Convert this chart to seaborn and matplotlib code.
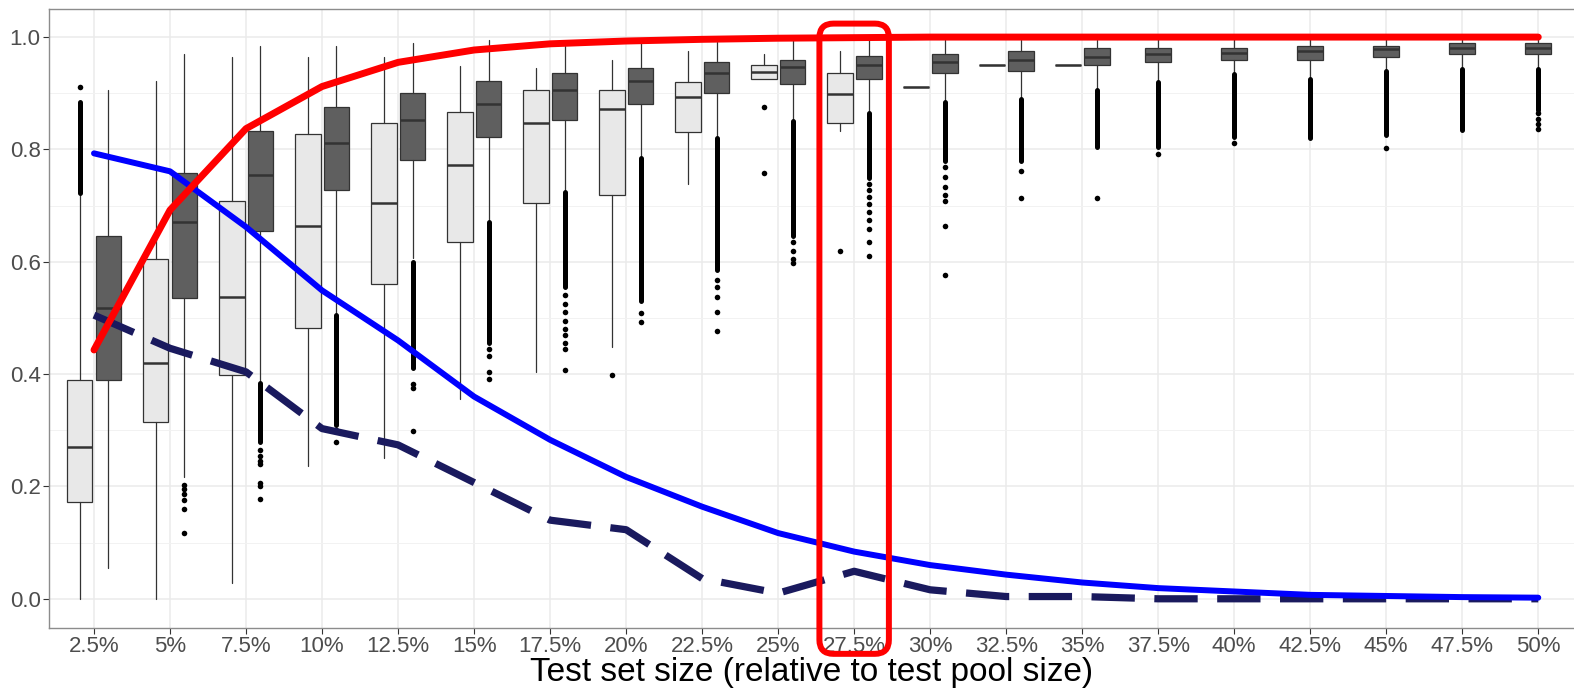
import numpy as np
import pandas as pd
import matplotlib
matplotlib.use("Agg")
import matplotlib.pyplot as plt
import seaborn as sns
from matplotlib.patches import FancyBboxPatch

# categories (test set size)
cats = ["2.5%", "5%", "7.5%", "10%", "12.5%", "15%", "17.5%", "20%", "22.5%", "25%",
        "27.5%", "30%", "32.5%", "35%", "37.5%", "40%", "42.5%", "45%", "47.5%", "50%"]

# light boxes (only up to 35%)
light_lo = [0.0, 0.0, 0.029, 0.237, 0.251, 0.355, 0.404, 0.449, 0.739, 0.926, 0.833, 0.911, 0.951, 0.951]
light_q1 = [0.172, 0.314, 0.398, 0.482, 0.561, 0.635, 0.705, 0.719, 0.831, 0.926, 0.847, 0.911, 0.951, 0.951]
light_med = [0.271, 0.419, 0.537, 0.664, 0.704, 0.773, 0.847, 0.872, 0.893, 0.937, 0.899, 0.911, 0.951, 0.951]
light_q3 = [0.389, 0.605, 0.709, 0.827, 0.847, 0.866, 0.906, 0.906, 0.920, 0.950, 0.936, 0.911, 0.951, 0.951]
light_hi = [0.718, 0.921, 0.964, 0.964, 0.964, 0.949, 0.945, 0.959, 0.975, 0.970, 0.975, 0.911, 0.951, 0.951]
light_dense = {0: (0.884, 0.722)}
light_out = {0: [0.911], 7: [0.398], 9: [0.876, 0.758], 10: [0.620]}

# dark boxes (all sizes)
dark_lo = [0.055, 0.217, 0.388, 0.508, 0.606, 0.674, 0.728, 0.786, 0.822, 0.850,
           0.865, 0.886, 0.890, 0.906, 0.921, 0.936, 0.926, 0.939, 0.943, 0.943]
dark_q1 = [0.389, 0.536, 0.655, 0.728, 0.782, 0.822, 0.852, 0.881, 0.901, 0.917,
           0.926, 0.936, 0.940, 0.951, 0.955, 0.959, 0.959, 0.965, 0.970, 0.970]
dark_med = [0.517, 0.670, 0.754, 0.812, 0.853, 0.881, 0.906, 0.921, 0.936, 0.946,
            0.951, 0.955, 0.960, 0.965, 0.970, 0.971, 0.975, 0.979, 0.980, 0.980]
dark_q3 = [0.645, 0.758, 0.832, 0.876, 0.901, 0.921, 0.936, 0.945, 0.955, 0.960,
           0.966, 0.970, 0.975, 0.980, 0.980, 0.980, 0.984, 0.984, 0.990, 0.990]
dark_hi = [0.905, 0.970, 0.985, 0.985, 0.989, 0.994, 0.985, 0.989, 0.991, 0.994,
           0.994, 0.994, 0.995, 0.995, 0.997, 0.998, 0.999, 0.999, 1.0, 1.0]
# dense outlier columns: (top, bottom)
dark_dense = {2: (0.385, 0.28), 3: (0.505, 0.31), 4: (0.60, 0.41), 5: (0.67, 0.455),
              6: (0.725, 0.555), 7: (0.785, 0.53), 8: (0.82, 0.585), 9: (0.85, 0.645),
              10: (0.865, 0.75), 11: (0.885, 0.78), 12: (0.89, 0.78), 13: (0.905, 0.804),
              14: (0.92, 0.804), 15: (0.935, 0.823), 16: (0.925, 0.821), 17: (0.94, 0.825),
              18: (0.943, 0.834), 19: (0.943, 0.87)}
dark_out = {1: [0.203, 0.195, 0.187, 0.176, 0.16, 0.117],
            2: [0.265, 0.255, 0.245, 0.24, 0.207, 0.2, 0.177],
            3: [0.30, 0.28],
            4: [0.382, 0.375, 0.299],
            5: [0.445, 0.433, 0.404, 0.392],
            6: [0.54, 0.525, 0.51, 0.495, 0.48, 0.47, 0.455, 0.445, 0.407],
            7: [0.508, 0.492],
            8: [0.567, 0.555, 0.537, 0.511, 0.476],
            9: [0.635, 0.62, 0.605, 0.597],
            10: [0.739, 0.727, 0.715, 0.703, 0.689, 0.674, 0.659, 0.635, 0.61],
            11: [0.769, 0.751, 0.733, 0.718, 0.709, 0.664, 0.576],
            12: [0.762, 0.713], 13: [0.713], 14: [0.792], 15: [0.812],
            17: [0.803], 19: [0.865, 0.855, 0.845, 0.837]}

# summary lines
red_line = [0.443, 0.692, 0.837, 0.912, 0.955, 0.977, 0.988, 0.993, 0.996, 0.998,
            0.999, 1.0, 1.0, 1.0, 1.0, 1.0, 1.0, 1.0, 1.0, 1.0]
blue_line = [0.793, 0.761, 0.662, 0.549, 0.46, 0.36, 0.283, 0.217, 0.164, 0.117,
             0.084, 0.060, 0.043, 0.029, 0.019, 0.013, 0.007, 0.005, 0.003, 0.002]
navy_line = [0.505, 0.446, 0.404, 0.303, 0.274, 0.207, 0.14, 0.123, 0.036, 0.010,
             0.049, 0.016, 0.004, 0.004, 0.0, 0.0, 0.0, 0.0, 0.0, 0.0]

highlight = "27.5%"

sns.set_theme(style="whitegrid")
plt.rcParams["font.family"] = ["Liberation Sans", "DejaVu Sans"]

fig = plt.figure(figsize=(15.74, 6.91), dpi=100)
ax = fig.add_axes([49 / 1574, 1 - 628 / 691, 1 - 49 / 1574, (628 - 9) / 691])

x = np.arange(len(cats))
n_light = len(light_med)
off, w = 0.19, 0.34


def stats(lo, q1, med, q3, hi):
    return dict(whislo=lo, q1=q1, med=med, q3=q3, whishi=hi, fliers=[])


def draw_boxes(pos, st, fill):
    ax.bxp(st, positions=pos, widths=w, patch_artist=True, showcaps=False,
           showfliers=False, manage_ticks=False,
           boxprops=dict(facecolor=fill, edgecolor="#333333", linewidth=0.9),
           medianprops=dict(color="#333333", linewidth=1.8),
           whiskerprops=dict(color="#333333", linewidth=0.9), zorder=2)


def draw_outliers(pos, dense, out):
    for i, (top, bot) in dense.items():
        ax.vlines(pos[i], bot, top, color="black", linewidth=3.6,
                  capstyle="round", zorder=3)
    for i, vals in out.items():
        ax.plot([pos[i]] * len(vals), vals, "o", color="black", ms=4,
                mec="none", zorder=3)


light_pos = x[:n_light] - off
dark_pos = np.where(x < n_light, x + off, x)

draw_boxes(light_pos, [stats(*v) for v in zip(light_lo, light_q1, light_med, light_q3, light_hi)], "#e8e8e8")
draw_boxes(dark_pos, [stats(*v) for v in zip(dark_lo, dark_q1, dark_med, dark_q3, dark_hi)], "#5f5f5f")
draw_outliers(light_pos, light_dense, light_out)
draw_outliers(dark_pos, dark_dense, dark_out)

lines = pd.DataFrame({"x": x, "red": red_line, "blue": blue_line, "navy": navy_line})
sns.lineplot(data=lines, x="x", y="navy", ax=ax, color="#1a1a5e", linewidth=5.2,
             zorder=4).lines[-1].set_dashes((6, 2.7))
sns.lineplot(data=lines, x="x", y="blue", ax=ax, color="#0000ff", linewidth=4.3, zorder=5)
sns.lineplot(data=lines, x="x", y="red", ax=ax, color="#ff0000", linewidth=5, zorder=6)

ax.set_xlim(-0.592, 19.47)
ax.set_ylim(-0.052, 1.05)
ax.set_xticks(x)
ax.set_xticklabels(cats)
ax.set_yticks([0.0, 0.2, 0.4, 0.6, 0.8, 1.0])
ax.set_yticklabels(["0.0", "0.2", "0.4", "0.6", "0.8", "1.0"])
ax.set_yticks([0.1, 0.3, 0.5, 0.7, 0.9], minor=True)
ax.grid(True, which="major", color="#ebebeb", linewidth=1.1)
ax.grid(True, which="minor", axis="y", color="#f2f2f2", linewidth=0.7)
ax.set_axisbelow(True)
ax.tick_params(axis="both", which="major", labelsize=16, labelcolor="#4d4d4d",
               color="#333333", length=4, width=0.8, left=True, bottom=True, pad=2)
ax.tick_params(axis="y", which="minor", left=False)
for side in ["left", "bottom", "top"]:
    ax.spines[side].set_color("#8c8c8c")
    ax.spines[side].set_linewidth(1.0)
ax.spines["right"].set_visible(False)
ax.set_ylabel("")
ax.set_xlabel("Test set size (relative to test pool size)", fontsize=24,
              color="black", labelpad=0)

# highlight rectangle around one category
fig.canvas.draw()
k = cats.index(highlight)
(x0, y0) = ax.transData.transform((k - 0.457, -0.098))
(x1, y1) = ax.transData.transform((k + 0.457, 1.024))
rect = FancyBboxPatch((x0, y0), x1 - x0, y1 - y0, boxstyle="round,pad=0,rounding_size=14",
                      transform=None, fill=False, edgecolor="#ff0000", linewidth=4.3,
                      clip_on=False, zorder=10)
fig.patches.append(rect)

fig.savefig("out.png", dpi=100)
